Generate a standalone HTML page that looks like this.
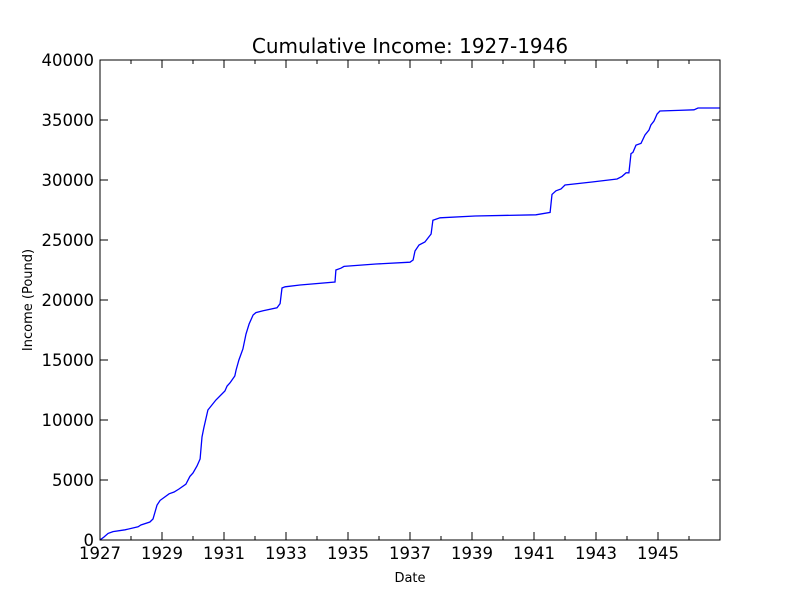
<!DOCTYPE html>
<html><head><meta charset="utf-8"><style>
body{margin:0;background:#fff}
svg text{font-family:"DejaVu Sans","Liberation Sans",sans-serif;fill:#000}
</style></head><body>
<svg id="chart" width="800" height="600" xmlns="http://www.w3.org/2000/svg">
<rect width="800" height="600" fill="#fff"/>
<text x="410" y="53" font-size="20" text-anchor="middle">Cumulative Income: 1927-1946</text>
<text x="410" y="582" font-size="13" text-anchor="middle">Date</text>
<text x="32" y="300" font-size="13" text-anchor="middle" transform="rotate(-90 32 300)">Income (Pound)</text>
<g id="ticks"></g>
<path id="line" fill="none" stroke="#0000ff" stroke-width="1.3"/>
<rect x="100" y="60" width="620" height="480" fill="none" stroke="#000" stroke-width="1"/>
</svg>
<script>
const years=[1927.00,1927.13,1927.26,1927.42,1927.81,1928.23,1928.32,1928.61,1928.71,1928.84,1928.94,1929.23,1929.39,1929.55,1929.77,1929.90,1930.00,1930.13,1930.23,1930.29,1930.35,1930.48,1930.74,1931.03,1931.10,1931.19,1931.35,1931.39,1931.48,1931.61,1931.71,1931.81,1931.94,1932.03,1932.26,1932.71,1932.81,1932.87,1932.97,1933.45,1934.58,1934.61,1934.77,1934.87,1935.90,1937.00,1937.10,1937.16,1937.29,1937.48,1937.58,1937.68,1937.74,1937.97,1939.10,1941.06,1941.52,1941.58,1941.71,1941.87,1942.00,1942.87,1943.68,1943.84,1943.97,1944.06,1944.13,1944.19,1944.29,1944.45,1944.58,1944.71,1944.77,1944.87,1944.97,1945.06,1945.65,1946.16,1946.29,1947.00];
const income=[0,250,550,700,850,1100,1250,1500,1750,2900,3300,3850,4000,4250,4650,5300,5583,6167,6750,8583,9333,10833,11667,12417,12833,13083,13667,14167,15000,15917,17167,18000,18750,18950,19100,19350,19700,21000,21100,21250,21500,22500,22650,22800,23000,23150,23333,24083,24583,24833,25167,25500,26650,26850,27000,27100,27300,28800,29100,29250,29583,29833,30083,30300,30600,30600,32200,32300,32900,33050,33750,34167,34583,34917,35500,35750,35800,35850,36000,36000];
const xTicks=[1927,1929,1931,1933,1935,1937,1939,1941,1943,1945];
const yTicks=[0,5000,10000,15000,20000,25000,30000,35000,40000];
const X0=100,X1=720,Y0=540,Y1=60,xmin=1927,xmax=1947,ymin=0,ymax=40000;
const sx=v=>X0+(v-xmin)/(xmax-xmin)*(X1-X0);
const sy=v=>Y0-(v-ymin)/(ymax-ymin)*(Y0-Y1);
const NS="http://www.w3.org/2000/svg";
const g=document.getElementById('ticks');
function ln(x1,y1,x2,y2){const l=document.createElementNS(NS,'line');l.setAttribute('x1',x1);l.setAttribute('y1',y1);l.setAttribute('x2',x2);l.setAttribute('y2',y2);l.setAttribute('stroke','#000');l.setAttribute('stroke-width','1');


g.appendChild(l);}
function tx(x,y,s,a){const t=document.createElementNS(NS,'text');t.setAttribute('x',x);t.setAttribute('y',y);t.setAttribute('font-size','16.5');t.setAttribute('text-anchor',a);t.textContent=s;


g.appendChild(t);}
for(let y=xmin;y<=xmax;y++){const x=sx(y);const major=xTicks.includes(y);const L=major?8:4;ln(x,Y0,x,Y0-L);ln(x,Y1,x,Y1+L);}
xTicks.forEach(v=>tx(sx(v),559,String(v),'middle'));
yTicks.forEach(v=>{const y=sy(v);ln(X0,y,X0+8,y);ln(X1,y,X1-8,y);tx(94,y+6,String(v),'end');});
let d='';years.forEach((v,i)=>{d+=(i?'L':'M')+sx(v).toFixed(1)+','+sy(income[i]).toFixed(1);});
document.getElementById('line').setAttribute('d',d);
</script>
</body></html>
